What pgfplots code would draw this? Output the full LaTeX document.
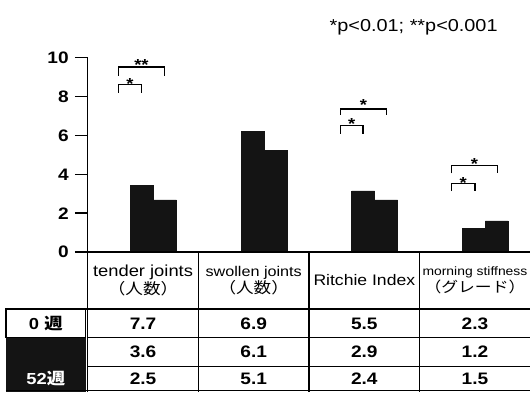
\documentclass[border=0pt]{standalone}
\usepackage{fontspec}
\setmainfont{Liberation Sans}[FakeStretch=1.15]
\newfontfamily\jp{Noto Sans CJK JP}[FakeStretch=1.15]
\usepackage{pgfplots}
\pgfplotsset{compat=1.18}
\definecolor{barblk}{gray}{0.08}
\tikzset{valnode/.style={font=\fontsize{12.5}{12.5}\selectfont\bfseries, inner sep=0},
  star/.style={font=\fontsize{12}{12}\selectfont\bfseries, inner sep=0, anchor=north},
  brk/.style={line width=1.1pt}}
\begin{document}
\begin{tikzpicture}
\begin{axis}[
  scale only axis, width=333pt, height=146.25pt,
  xmin=-0.5, xmax=3.5, ymin=0, ymax=10,
  axis y line=left, axis x line=bottom,
  axis line style={-, line width=1.1pt},
  ytick={0,2,4,6,8,10}, xtick=\empty,
  tick align=outside, major tick length=9.75pt,
  tick style={line width=1.1pt, black},
  yticklabel style={font=\fontsize{12.5}{12.5}\selectfont\bfseries, xshift=-1pt},
  /pgf/number format/assume math mode=true,
  clip=false, axis on top,
]
% 0 week (white bars)
\addplot[ybar, bar width=0.207, bar shift=0pt, fill=white, draw=none]
  coordinates {(-0.215,7.7) (0.785,6.9) (1.785,5.5) (2.785,2.3)};
% middle time point
\addplot[ybar, bar width=0.207, bar shift=0pt, fill=barblk, draw=barblk]
  coordinates {(-0.01,3.45) (0.99,6.2) (1.99,3.15) (2.99,1.23)};
% 52 weeks
\addplot[ybar, bar width=0.207, bar shift=0pt, fill=barblk, draw=barblk]
  coordinates {(0.197,2.68) (1.197,5.25) (2.197,2.68) (3.197,1.6)};

% significance brackets
\draw[brk] (axis cs:-0.221,8.19) |- (axis cs:-0.016,8.62) -- (axis cs:-0.016,8.19);
\draw[brk] (axis cs:-0.221,9.08) |- (axis cs:0.194,9.52) -- (axis cs:0.194,9.08);
\node[star] at (axis cs:-0.118,8.92) {*};
\node[star] at (axis cs:-0.014,9.90) {**};

\draw[brk] (axis cs:1.784,6.10) |- (axis cs:1.986,6.51) -- (axis cs:1.986,6.10);
\draw[brk] (axis cs:1.784,7.06) |- (axis cs:2.200,7.37) -- (axis cs:2.200,7.06);
\node[star] at (axis cs:1.885,6.88) {*};
\node[star] at (axis cs:1.992,7.84) {*};

\draw[brk] (axis cs:2.788,3.14) |- (axis cs:3.000,3.52) -- (axis cs:3.000,3.14);
\draw[brk] (axis cs:2.788,4.05) |- (axis cs:3.205,4.46) -- (axis cs:3.205,4.05);
\node[star] at (axis cs:2.894,3.86) {*};
\node[star] at (axis cs:2.996,4.83) {*};

% footnote
\node[font=\fontsize{13}{13}\selectfont, inner sep=0] at (axis cs:2.446,11.55) {*p<0.01; **p<0.001};

% table lines
\draw[line width=1pt] (axis cs:-0.5,0) -- (axis cs:-0.5,-7.18);
\draw[line width=1pt] (axis cs:0.5,0) -- (axis cs:0.5,-7.18);
\draw[line width=1pt] (axis cs:1.5,0) -- (axis cs:1.5,-7.18);
\draw[line width=1pt] (axis cs:2.5,0) -- (axis cs:2.5,-7.18);
\fill[barblk] (axis cs:-1.239,-4.41) rectangle (axis cs:-0.518,-7.18);
\draw[line width=1pt] (axis cs:-1.239,-2.923) rectangle (axis cs:-0.518,-4.41);
\draw[line width=1pt] (axis cs:-1.239,-2.923) -- (axis cs:3.5,-2.923);
\draw[line width=0.8pt] (axis cs:-0.5,-4.41) -- (axis cs:3.5,-4.41);
\draw[line width=0.8pt] (axis cs:-0.5,-5.897) -- (axis cs:3.5,-5.897);
\draw[line width=1pt] (axis cs:-1.239,-7.13) -- (axis cs:3.5,-7.13);

% header
\node[align=center, inner sep=0, font=\fontsize{12}{13}\selectfont] at (axis cs:0,-1.46)
  {tender joints\\{\jp\fontsize{11.5}{12}\selectfont （人数）}};
\node[align=center, inner sep=0, font=\fontsize{10.6}{12.5}\selectfont] at (axis cs:1,-1.46)
  {swollen joints\\{\jp\fontsize{11.5}{12}\selectfont （人数）}};
\node[align=center, inner sep=0, font=\fontsize{11.5}{13}\selectfont] at (axis cs:2,-1.46)
  {Ritchie Index};
\node[align=center, inner sep=0, font=\fontsize{9.1}{12.5}\selectfont] at (axis cs:3,-1.46)
  {morning stiffness\\{\jp\fontsize{11}{12}\selectfont （グレード）}};

% row labels
\node[font=\fontsize{12}{12}\selectfont\bfseries, inner sep=0] at (axis cs:-0.879,-3.67) {0 {\jp 週}};
\node[font=\fontsize{12}{12}\selectfont\bfseries, inner sep=0, text=white] at (axis cs:-0.879,-6.51) {52{\jp 週}};

% values
\node[valnode] at (axis cs:0,-3.67) {7.7};
\node[valnode] at (axis cs:1,-3.67) {6.9};
\node[valnode] at (axis cs:2,-3.67) {5.5};
\node[valnode] at (axis cs:3,-3.67) {2.3};
\node[valnode] at (axis cs:0,-5.15) {3.6};
\node[valnode] at (axis cs:1,-5.15) {6.1};
\node[valnode] at (axis cs:2,-5.15) {2.9};
\node[valnode] at (axis cs:3,-5.15) {1.2};
\node[valnode] at (axis cs:0,-6.51) {2.5};
\node[valnode] at (axis cs:1,-6.51) {5.1};
\node[valnode] at (axis cs:2,-6.51) {2.4};
\node[valnode] at (axis cs:3,-6.51) {1.5};

% page extent
\path (axis cs:-1.293,12.97) rectangle (axis cs:3.5,-7.18);
\end{axis}
\end{tikzpicture}
\end{document}
